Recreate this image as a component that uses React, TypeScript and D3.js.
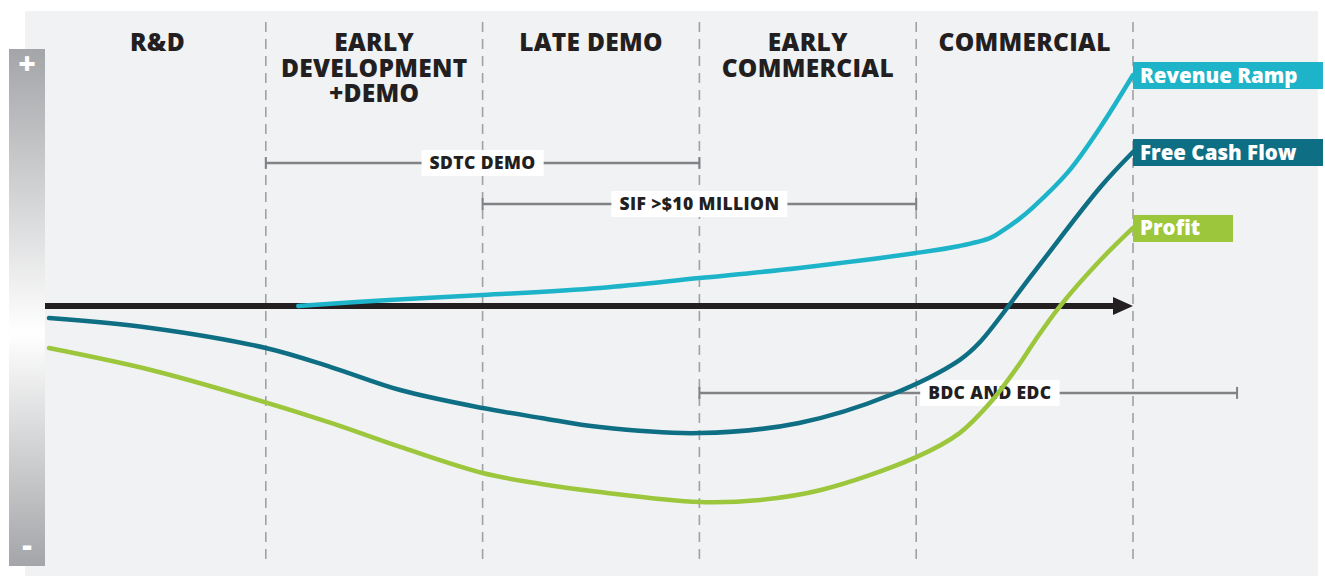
import * as React from "react";
import * as d3 from "d3";

// stage headers (one entry per column, lines split)
const stages = [
  ["R&D"],
  ["EARLY", "DEVELOPMENT", "+DEMO"],
  ["LATE DEMO"],
  ["EARLY", "COMMERCIAL"],
  ["COMMERCIAL"],
];

// x = stage position (0..5), y = relative value (-100..100)
const revenueX = [1.15, 1.57, 2.0, 2.54, 3.0, 3.46, 4.0, 4.2, 4.34, 4.39, 4.47, 4.54, 4.7, 4.85, 5.0];
const revenueY = [0, 2.3, 4.2, 6.9, 10.7, 14.6, 20.3, 23, 26, 28.4, 33, 37.9, 51.3, 68.6, 88.5];

const cashX = [0, 0.47, 1.0, 1.3, 1.62, 2.0, 2.27, 2.54, 3.0, 3.46, 3.88, 4.2, 4.29, 4.54, 4.85, 5.0];
const cashY = [-4.6, -8.4, -16.1, -23.4, -32.2, -39.1, -42.9, -46.4, -48.7, -44.8, -34.1, -20.7, -14.2, 12.6, 45.6, 59];

const profitX = [0, 0.47, 0.93, 1.3, 1.62, 2.0, 2.27, 2.54, 3.0, 3.28, 3.56, 4.0, 4.2, 4.34, 4.48, 4.55, 4.66, 4.85, 5.0];
const profitY = [-16.1, -24.5, -35.2, -44.8, -54, -64, -68.2, -71.3, -75.1, -74.3, -70.5, -57.9, -48.7, -37.2, -21.8, -13, -0.4, 17.6, 29.9];

const seriesNames = ["Revenue Ramp", "Free Cash Flow", "Profit"];
const seriesColors = ["#1db4c9", "#0e6e83", "#9cc63b"];

// funding programmes: start stage, end stage, label centre, level
const programNames = ["SDTC DEMO", "SIF >$10 MILLION", "BDC AND EDC"];
const programStart = [1, 2, 3];
const programEnd = [3, 4, 5.48];
const programLabelAt = [2.0, 3.0, 4.34];
const programLevel = [54.8, 39.1, -33.3];

const W = 1325;
const H = 576;
const font = "'Open Sans', 'DejaVu Sans', sans-serif";

function BoxedLabel({ cx, cy, text }: { cx: number; cy: number; text: string }) {
  const ref = React.useRef<SVGTextElement>(null);
  const [w, setW] = React.useState(text.length * 10);
  React.useLayoutEffect(() => {
    if (ref.current) setW(ref.current.getComputedTextLength());
  }, [text]);
  const pad = 8;
  return (
    <g>
      <rect x={cx - w / 2 - pad} y={cy - 13} width={w + pad * 2} height={26} fill="#fff" />
      <text ref={ref} x={cx} y={cy + 6} textAnchor="middle" fontFamily={font} fontWeight={800} fontSize={17.5} fill="#231f20" letterSpacing={0.4}>
        {text}
      </text>
    </g>
  );
}

export default function App() {
  const x = d3.scaleLinear().domain([0, 5]).range([49, 1133]);
  const y = d3.scaleLinear().domain([-100, 100]).range([567, 45]);

  const line = d3
    .line<[number, number]>()
    .x((d) => x(d[0]))
    .y((d) => y(d[1]))
    .curve(d3.curveCatmullRom.alpha(0.5));

  const series = [
    d3.zip(revenueX, revenueY) as [number, number][],
    d3.zip(cashX, cashY) as [number, number][],
    d3.zip(profitX, profitY) as [number, number][],
  ];
  const labelWidths = [190, 190, 100];

  const y0 = y(0);

  return (
    <svg width={W} height={H} style={{ position: "absolute", left: 0, top: 0 }}>
      <defs>
        <linearGradient id="side" x1="0" y1="0" x2="0" y2="1">
          <stop offset="0" stopColor="#a3a5a8" />
          <stop offset="0.55" stopColor="#ffffff" />
          <stop offset="1" stopColor="#a3a5a8" />
        </linearGradient>
      </defs>
      <rect x={0} y={0} width={W} height={H} fill="#ffffff" />
      <rect x={25} y={11} width={1293} height={H - 11} fill="#f1f2f4" />

      {/* side scale */}
      <rect x={9} y={y(100) + 4} width={36} height={y(-100) - y(100) - 5} fill="url(#side)" />
      <text x={27} y={74} fill="#fff" fontFamily={font} fontWeight={800} fontSize={30} textAnchor="middle">+</text>
      <text x={27} y={556} fill="#fff" fontFamily={font} fontWeight={800} fontSize={30} textAnchor="middle">-</text>

      {/* stage separators */}
      {d3.range(1, 6).map((s) => (
        <line key={s} x1={x(s)} x2={x(s)} y1={22} y2={566} stroke="#9fa1a4" strokeWidth={1.6} strokeDasharray="10 7" />
      ))}

      {/* stage headers */}
      {stages.map((lines, i) => (
        <text key={i} x={x(i + 0.5)} y={51} textAnchor="middle" fontFamily={font} fontWeight={800} fontSize={24.5} fill="#231f20" letterSpacing={0.3}>
          {lines.map((t, j) => (
            <tspan key={j} x={x(i + 0.5)} dy={j === 0 ? 0 : 25.5}>{t}</tspan>
          ))}
        </text>
      ))}

      {/* zero arrow */}
      <line x1={45} x2={x(5) - 16} y1={y0} y2={y0} stroke="#231f20" strokeWidth={6} />
      <path d={`M${x(5)},${y0} L${x(5) - 20},${y0 - 9} L${x(5) - 20},${y0 + 9} Z`} fill="#231f20" />

      {/* programmes */}
      {programNames.map((name, i) => {
        const py = y(programLevel[i]);
        return (
          <g key={name}>
            <line x1={x(programStart[i])} x2={x(programEnd[i])} y1={py} y2={py} stroke="#808285" strokeWidth={2.5} />
            <line x1={x(programStart[i])} x2={x(programStart[i])} y1={py - 6} y2={py + 6} stroke="#808285" strokeWidth={2} />
            <line x1={x(programEnd[i])} x2={x(programEnd[i])} y1={py - 6} y2={py + 6} stroke="#808285" strokeWidth={2} />
            <BoxedLabel cx={x(programLabelAt[i])} cy={py} text={name} />
          </g>
        );
      })}

      {/* curves */}
      {series.map((pts, i) => (
        <path key={i} d={line(pts) || ""} fill="none" stroke={seriesColors[i]} strokeWidth={4.5} strokeLinecap="round" />
      ))}

      {/* series labels */}
      {series.map((pts, i) => {
        const last = pts[pts.length - 1];
        const ly = y(last[1]);
        return (
          <g key={i}>
            <rect x={x(5)} y={ly - 13} width={labelWidths[i]} height={27} fill={seriesColors[i]} />
            <text x={x(5) + 7} y={ly + 7.5} fontFamily={font} fontWeight={800} fontSize={20.5} fill="#fff">{seriesNames[i]}</text>
          </g>
        );
      })}
    </svg>
  );
}
